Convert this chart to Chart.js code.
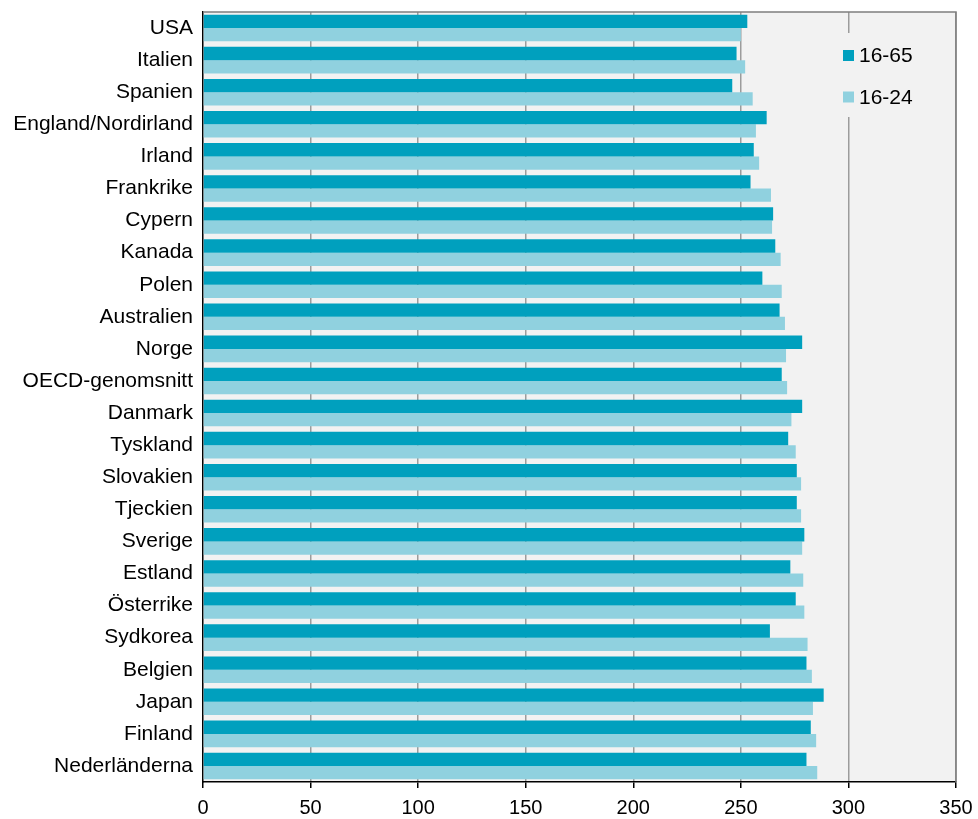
<!DOCTYPE html>
<html>
<head>
<meta charset="utf-8">
<script src="https://cdn.jsdelivr.net/npm/chart.js@4"></script>
<style>
    html, body { margin: 0; padding: 0; background: #ffffff; }
    #wrap { width: 978px; height: 819px; }
</style>
</head>
<body>
<div id="wrap"><canvas id="chart" width="978" height="819"></canvas></div>
<script>
// Länder (uppifrån och ner)
const countries = [
    "USA", "Italien", "Spanien", "England/Nordirland", "Irland", "Frankrike",
    "Cypern", "Kanada", "Polen", "Australien", "Norge", "OECD-genomsnitt",
    "Danmark", "Tyskland", "Slovakien", "Tjeckien", "Sverige", "Estland",
    "Österrike", "Sydkorea", "Belgien", "Japan", "Finland", "Nederländerna"
];

// Medelpoäng 16-65 år
const values1665 = [
    253, 248, 246, 262, 256, 254.5,
    265, 266, 260, 268, 278.5, 269,
    278.5, 272, 276, 276, 279.5, 273,
    275.5, 263.5, 280.5, 288.5, 282.5, 280.5
];

// Medelpoäng 16-24 år
const values1624 = [
    250, 252, 255.5, 257, 258.5, 264,
    264.5, 268.5, 269, 270.5, 271, 271.5,
    273.5, 275.5, 278, 278, 278.5, 279,
    279.5, 281, 283, 283.5, 285, 285.5
];

const seriesLabels = ["16-65", "16-24"];
const xTicks = [0, 50, 100, 150, 200, 250, 300, 350];

const darkColor = "#00a0be";
const lightColor = "#90d1df";
const fontFamily = "'Liberation Sans', Arial, sans-serif";

// Grå bakgrund + ram upptill och till höger
const plotBackground = {
    id: "plotBackground",
    beforeDraw(chart) {
        const { ctx, chartArea: a } = chart;
        ctx.save();
        ctx.fillStyle = "#f2f2f2";
        ctx.fillRect(a.left, a.top, a.right - a.left, a.bottom - a.top);
        ctx.restore();
    },
    afterDraw(chart) {
        const { ctx, chartArea: a } = chart;
        ctx.save();
        ctx.strokeStyle = "#7f7f7f";
        ctx.lineWidth = 1.5;
        ctx.beginPath();
        ctx.moveTo(a.left, a.top);
        ctx.lineTo(a.right, a.top);
        ctx.lineTo(a.right, a.bottom);
        ctx.stroke();
        ctx.restore();
    },
};

// Förklaring inne i diagrammet
const innerLegend = {
    id: "innerLegend",
    afterDatasetsDraw(chart) {
        const { ctx, chartArea: a } = chart;
        const x = a.right - 113;
        ctx.save();
        ctx.fillStyle = "#f2f2f2";
        ctx.fillRect(x - 8, a.top + 21, 96, 84);
        ctx.font = "21px " + fontFamily;
        ctx.textBaseline = "middle";
        chart.data.datasets.forEach((ds, i) => {
            const y = a.top + 43.5 + i * 41.5;
            ctx.fillStyle = ds.backgroundColor;
            ctx.fillRect(x, y - 5.5, 11, 11);
            ctx.fillStyle = "#000000";
            ctx.fillText(ds.label, x + 16, y + 1);
        });
        ctx.restore();
    },
};

const ctx = document.getElementById("chart").getContext("2d");

new Chart(ctx, {
    type: "bar",
    data: {
        labels: countries,
        datasets: [
            {
                label: seriesLabels[0],
                data: values1665,
                backgroundColor: darkColor,
                categoryPercentage: 0.83,
                barPercentage: 1.0,
            },
            {
                label: seriesLabels[1],
                data: values1624,
                backgroundColor: lightColor,
                categoryPercentage: 0.83,
                barPercentage: 1.0,
            },
        ],
    },
    options: {
        indexAxis: "y",
        responsive: false,
        animation: false,
        layout: {
            padding: { top: 12, right: 22, bottom: 0, left: 0 },
        },
        plugins: {
            legend: { display: false },
            tooltip: { enabled: false },
        },
        scales: {
            x: {
                min: 0,
                max: 350,
                afterBuildTicks: (scale) => {
                    scale.ticks = xTicks.map((v) => ({ value: v }));
                },
                afterFit: (scale) => {
                    scale.height = 37;
                    scale.paddingLeft = 0;
                    scale.paddingRight = 0;
                },
                grid: {
                    color: (c) => (c.tick && c.tick.value === 0 ? "rgba(0,0,0,0)" : "#9c9c9c"),
                    lineWidth: 1.5,
                    drawTicks: true,
                    tickLength: 6,
                    tickColor: "#000000",
                },
                border: { display: true, color: "#000000", width: 1.5 },
                ticks: {
                    color: "#000000",
                    padding: 8,
                    maxRotation: 0,
                    font: { family: fontFamily, size: 20 },
                },
            },
            y: {
                afterFit: (scale) => {
                    scale.width = 203;
                    scale.paddingTop = 0;
                    scale.paddingBottom = 0;
                },
                grid: { display: false, drawTicks: false },
                border: { display: true, color: "#000000", width: 1.5 },
                ticks: {
                    color: "#000000",
                    padding: 10,
                    autoSkip: false,
                    font: { family: fontFamily, size: 21 },
                },
            },
        },
    },
    plugins: [plotBackground, innerLegend],
});
</script>
</body>
</html>
